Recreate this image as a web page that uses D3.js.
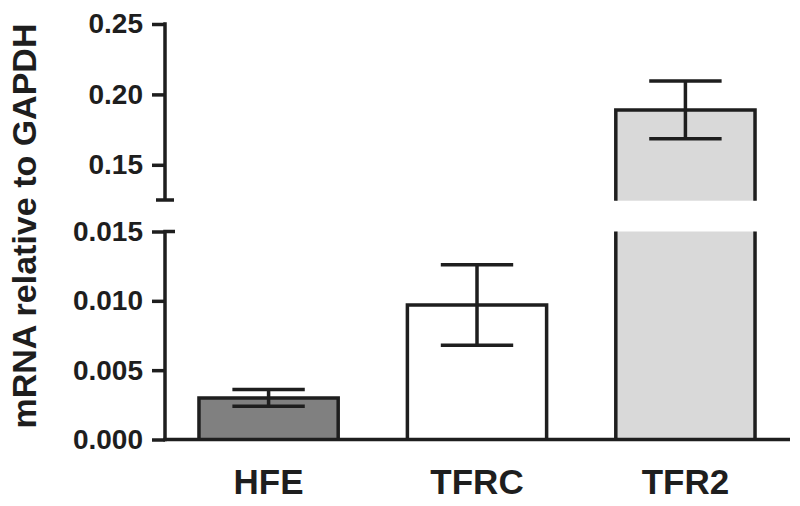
<!DOCTYPE html>
<html>
<head>
<meta charset="utf-8">
<script src="https://cdn.jsdelivr.net/npm/d3@7"></script>
<style>
  body { margin: 0; background: #fff; }
  text { font-family: "Liberation Sans", Arial, sans-serif; font-weight: bold; fill: #1e1e1e; }
</style>
</head>
<body>
<div class="chart-container"></div>
<script>
//! CONSTS
const WIDTH = 800
const HEIGHT = 506
const INK = '#1e1e1e'

//! DATA
const genes = ['HFE', 'TFRC', 'TFR2']
const means = [0.0030, 0.0097, 0.189]
const errors = [0.0006, 0.0029, 0.0205]
const fills = ['#808080', '#ffffff', '#d9d9d9']
const lowTicks = [0, 0.005, 0.010, 0.015]
const highTicks = [0.15, 0.20, 0.25]
const lowDomain = [0, 0.015]
const highDomain = [0.125, 0.25]

//! SVG
const svg = d3.select('.chart-container')
  .append('svg')
  .attr('width', WIDTH)
  .attr('height', HEIGHT)

//! SCALES
const x = d3.scaleBand()
  .domain(genes)
  .range([165, 789])
  .paddingInner(0.332)
  .paddingOuter(0.163)

const yLow = d3.scaleLinear().domain(lowDomain).range([439.5, 231.5])
const yHigh = d3.scaleLinear().domain(highDomain).range([200, 24])

// pick the segment a value belongs to
const y = v => v > lowDomain[1] ? yHigh(v) : yLow(v)

//! BARS
const bw = x.bandwidth()
genes.forEach((g, i) => {
  const x0 = x(g), x1 = x0 + bw
  const v = means[i]
  const g1 = svg.append('g').attr('class', 'bar')
  if (v <= lowDomain[1]) {
    g1.append('rect')
      .attr('x', x0).attr('y', yLow(v))
      .attr('width', bw).attr('height', yLow(0) - yLow(v))
      .attr('fill', fills[i])
    g1.append('path')
      .attr('d', `M${x0},${yLow(0)}V${yLow(v)}H${x1}V${yLow(0)}`)
      .attr('fill', 'none').attr('stroke', INK).attr('stroke-width', 3.5)
  } else {
    // lower piece, cut at the top of the lower segment
    g1.append('rect')
      .attr('x', x0).attr('y', yLow(lowDomain[1]))
      .attr('width', bw).attr('height', yLow(0) - yLow(lowDomain[1]))
      .attr('fill', fills[i])
    g1.append('path')
      .attr('d', `M${x0},${yLow(0)}V${yLow(lowDomain[1])}M${x1},${yLow(0)}V${yLow(lowDomain[1])}`)
      .attr('fill', 'none').attr('stroke', INK).attr('stroke-width', 3.5)
    // upper piece
    const yb = yHigh(highDomain[0]) + 0.7
    g1.append('rect')
      .attr('x', x0).attr('y', yHigh(v))
      .attr('width', bw).attr('height', yb - yHigh(v))
      .attr('fill', fills[i])
    g1.append('path')
      .attr('d', `M${x0},${yb}V${yHigh(v)}H${x1}V${yb}`)
      .attr('fill', 'none').attr('stroke', INK).attr('stroke-width', 3.5)
  }
})

//! ERROR BARS
const capW = bw * 0.26
svg.append('g')
  .selectAll('g')
  .data(genes)
  .enter()
  .append('path')
  .attr('d', (g, i) => {
    const cx = x(g) + bw / 2
    const hi = y(means[i] + errors[i])
    const lo = y(means[i] - errors[i])
    return `M${cx},${hi}V${lo}M${cx - capW},${hi}H${cx + capW}M${cx - capW},${lo}H${cx + capW}`
  })
  .attr('fill', 'none')
  .attr('stroke', INK)
  .attr('stroke-width', 3.5)

//! AXES
const axisX = 165
const styleAxis = sel => {
  sel.select('.domain').remove()
  sel.selectAll('line').attr('stroke', INK).attr('stroke-width', 3.5)
  sel.selectAll('text')
    .style('font-size', '28px')
    .attr('fill', INK)
}

svg.append('g')
  .attr('transform', `translate(${axisX},0)`)
  .call(d3.axisLeft(yHigh).tickValues(highTicks).tickFormat(d3.format('.2f')).tickSize(13).tickPadding(9))
  .call(styleAxis)

svg.append('g')
  .attr('transform', `translate(${axisX},0)`)
  .call(d3.axisLeft(yLow).tickValues(lowTicks).tickFormat(d3.format('.3f')).tickSize(13).tickPadding(9))
  .call(styleAxis)

// axis spines with break caps
const breakY = yHigh(highDomain[0])
svg.append('path')
  .attr('d', `M${axisX},${yHigh(0.25) - 1.75}V${breakY}M${axisX - 9},${breakY}H${axisX + 9}` +
    `M${axisX},${yLow(0) + 1.75}V${yLow(lowDomain[1])}H${axisX + 10}`)
  .attr('fill', 'none')
  .attr('stroke', INK)
  .attr('stroke-width', 3.5)

// x axis
svg.append('line')
  .attr('x1', axisX - 1.75).attr('x2', 790)
  .attr('y1', yLow(0)).attr('y2', yLow(0))
  .attr('stroke', INK)
  .attr('stroke-width', 3.5)

svg.append('g')
  .selectAll('text')
  .data(genes)
  .enter()
  .append('text')
  .attr('x', d => x(d) + bw / 2)
  .attr('y', 494)
  .attr('text-anchor', 'middle')
  .style('font-size', '35px')
  .text(d => d)

// y title
svg.append('text')
  .attr('transform', 'translate(36,226) rotate(-90)')
  .attr('text-anchor', 'middle')
  .style('font-size', '34px')
  .text('mRNA relative to GAPDH')
</script>
</body>
</html>
